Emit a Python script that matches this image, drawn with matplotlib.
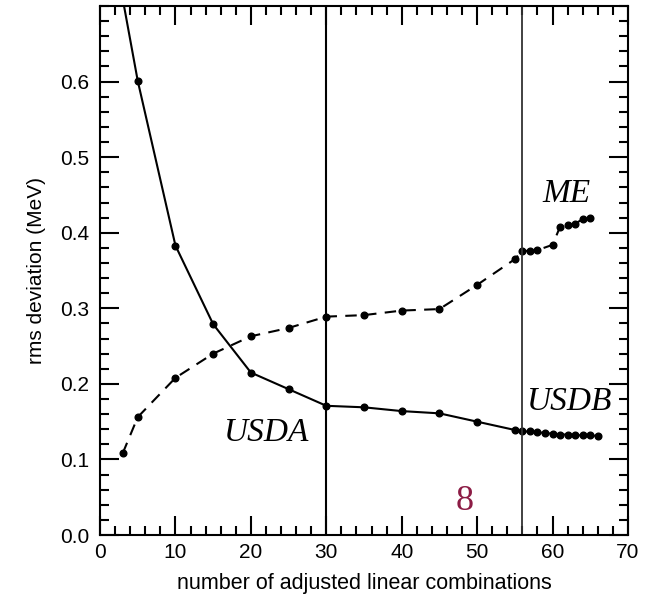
import matplotlib
matplotlib.use('Agg')
import matplotlib.pyplot as plt
from matplotlib.ticker import MultipleLocator, FixedLocator

# solid curve (rms deviation of the fit)
fit_n = [3, 5, 10, 15, 20, 25, 30, 35, 40, 45, 50, 55,
         56, 57, 58, 59, 60, 61, 62, 63, 64, 65, 66]
fit_rms = [0.71, 0.601, 0.383, 0.279, 0.215, 0.193, 0.171, 0.169, 0.164, 0.161, 0.150, 0.139,
           0.137, 0.137, 0.136, 0.135, 0.134, 0.133, 0.133, 0.132, 0.132, 0.132, 0.131]

# dashed curve (ME)
me_n = [3, 5, 10, 15, 20, 25, 30, 35, 40, 45, 50, 55,
        56, 57, 58, 60, 61, 62, 63, 64, 65]
me_rms = [0.108, 0.156, 0.208, 0.240, 0.263, 0.274, 0.289, 0.291, 0.297, 0.299, 0.331, 0.365,
          0.376, 0.376, 0.377, 0.384, 0.408, 0.410, 0.412, 0.418, 0.419]

marks = [30, 56]
y_ticks = [0.0, 0.1, 0.2, 0.3, 0.4, 0.5, 0.6]

plt.rcParams['font.family'] = ['Liberation Sans', 'DejaVu Sans']

fig = plt.figure(figsize=(6.47, 5.96), dpi=100)
ax = fig.add_axes([0.1546, 0.1023, 0.816, 0.8876])

ax.plot(fit_n, fit_rms, color='black', lw=1.5, marker='o', ms=4.8)
ax.plot(me_n, me_rms, color='black', lw=1.5, marker='o', ms=4.8, dashes=(5.5, 4))

ax.axvline(marks[0], color='black', lw=1.5)
ax.axvline(marks[1], color='#333333', lw=1.3)

serif = ['Liberation Serif', 'DejaVu Serif']
ax.text(22.1, 0.136, 'USDA', family=serif, style='italic', fontsize=24, ha='center', va='center')
ax.text(62.2, 0.176, 'USDB', family=serif, style='italic', fontsize=24, ha='center', va='center')
ax.text(61.9, 0.452, 'ME', family=serif, style='italic', fontsize=24, ha='center', va='center')
ax.text(48.3, 0.044, '8', family=serif, fontsize=26, color='#8c1c45', ha='center', va='center')

ax.set_xlim(0, 70)
ax.set_ylim(0, 0.7)
ax.xaxis.set_major_locator(MultipleLocator(10))
ax.xaxis.set_minor_locator(MultipleLocator(2))
ax.yaxis.set_major_locator(FixedLocator(y_ticks))
ax.yaxis.set_minor_locator(MultipleLocator(0.02))
ax.yaxis.set_major_formatter(plt.FormatStrFormatter('%.1f'))

ax.tick_params(which='both', direction='in', top=True, right=True, width=1.5, labelsize=15)
ax.tick_params(which='major', length=13.5, pad=6)
ax.tick_params(which='minor', length=6.5)
ax.tick_params(axis='y', which='major', pad=8)
for s in ax.spines.values():
    s.set_linewidth(1.5)

ax.set_xlabel('number of adjusted linear combinations', fontsize=15.5, labelpad=8)
ax.set_ylabel('rms deviation (MeV)', fontsize=15, labelpad=10)

fig.savefig('out.png', dpi=100)
